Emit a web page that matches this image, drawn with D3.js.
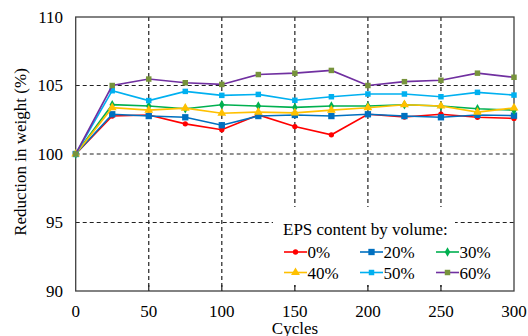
<!DOCTYPE html>
<html>
<head>
<meta charset="utf-8">
<script src="https://cdn.jsdelivr.net/npm/d3@7"></script>
<style>
  body { margin: 0; background: #fff; }
</style>
</head>
<body>
<svg id="chart" width="528" height="336"></svg>
<script>
// cycles on the x axis
var cycles = [0, 25, 50, 75, 100, 125, 150, 175, 200, 225, 250, 275, 300];

// reduction in weight (%) per EPS content
var eps0  = [100, 102.77, 102.85, 102.2, 101.77, 102.85, 102.0, 101.4, 102.9, 102.7, 102.9, 102.68, 102.6];
var eps20 = [100, 102.9, 102.77, 102.68, 102.1, 102.77, 102.85, 102.77, 102.9, 102.77, 102.68, 102.85, 102.8];
var eps30 = [100, 103.6, 103.5, 103.3, 103.6, 103.5, 103.4, 103.5, 103.5, 103.6, 103.5, 103.3, 103.2];
var eps40 = [100, 103.38, 103.2, 103.35, 102.97, 103.06, 103.0, 103.2, 103.38, 103.6, 103.5, 103.06, 103.36];
var eps50 = [100, 104.62, 103.9, 104.57, 104.28, 104.35, 103.92, 104.18, 104.38, 104.38, 104.18, 104.5, 104.3];
var eps60 = [100, 105.0, 105.47, 105.2, 105.08, 105.8, 105.9, 106.1, 105.0, 105.28, 105.38, 105.9, 105.6];

var seriesNames = ["0%", "20%", "30%", "40%", "50%", "60%"];
var xTicks = [0, 50, 100, 150, 200, 250, 300];
var yTicks = [90, 95, 100, 105, 110];

var series = [
  { name: seriesNames[0], values: eps0,  color: "#ff0000", marker: "circle",   mfill: "#ff0000", size: 22 },
  { name: seriesNames[1], values: eps20, color: "#0070c0", marker: "square",   mfill: "#0070c0", size: 40 },
  { name: seriesNames[2], values: eps30, color: "#00b050", marker: "diamond",  mfill: "#00b050", size: 26 },
  { name: seriesNames[3], values: eps40, color: "#ffc000", marker: "triangle", mfill: "#ffc000", size: 34 },
  { name: seriesNames[4], values: eps50, color: "#00b0f0", marker: "square",   mfill: "#00b0f0", size: 30 },
  { name: seriesNames[5], values: eps60, color: "#7030a0", marker: "square",   mfill: "#77933c", size: 30 }
];

var symbolType = {
  circle: d3.symbolCircle,
  square: d3.symbolSquare,
  diamond: d3.symbolDiamond,
  triangle: d3.symbolTriangle
};

var FONT = "'Liberation Serif', 'DejaVu Serif', serif";
var svg = d3.select("#chart");
var plotL = 75.7, plotR = 514, plotT = 17, plotB = 291;

var x = d3.scaleLinear().domain([0, 300]).range([plotL, plotR]);
var y = d3.scaleLinear().domain([90, 110]).range([plotB, plotT]);

// dashed grid
svg.append("g").selectAll("line")
  .data(xTicks.slice(1, -1))
  .enter().append("line")
  .attr("x1", d => x(d)).attr("x2", d => x(d))
  .attr("y1", plotT).attr("y2", plotB)
  .attr("stroke", "#222").attr("stroke-width", 1.2)
  .attr("stroke-dasharray", "4,3");
svg.append("g").selectAll("line")
  .data(yTicks.slice(1, -1))
  .enter().append("line")
  .attr("x1", plotL).attr("x2", plotR)
  .attr("y1", d => y(d)).attr("y2", d => y(d))
  .attr("stroke", "#222").attr("stroke-width", 1.2)
  .attr("stroke-dasharray", "4,3");

// inward ticks on the bottom axis
svg.append("g").selectAll("line")
  .data(xTicks.slice(1, -1))
  .enter().append("line")
  .attr("x1", d => x(d)).attr("x2", d => x(d))
  .attr("y1", plotB - 6).attr("y2", plotB)
  .attr("stroke", "#222").attr("stroke-width", 1.2);

// legend backgrounds (cover the grid)
svg.append("rect").attr("x", 273).attr("y", 207).attr("width", 182).attr("height", 34).attr("fill", "#fff");
svg.append("rect").attr("x", 273).attr("y", 240).attr("width", 240).attr("height", 45).attr("fill", "#fff");

// frame
svg.append("rect")
  .attr("x", plotL).attr("y", plotT)
  .attr("width", plotR - plotL).attr("height", plotB - plotT)
  .attr("fill", "none").attr("stroke", "#404040").attr("stroke-width", 1.3);

// axis labels
svg.append("g").selectAll("text")
  .data(xTicks)
  .enter().append("text")
  .attr("x", d => x(d)).attr("y", 316.5)
  .attr("text-anchor", "middle")
  .attr("font-family", FONT).attr("font-size", 17)
  .text(d => d);
svg.append("g").selectAll("text")
  .data(yTicks)
  .enter().append("text")
  .attr("x", 63).attr("y", d => y(d) + 5.5)
  .attr("text-anchor", "end")
  .attr("font-family", FONT).attr("font-size", 17)
  .text(d => d);

svg.append("text")
  .attr("x", 295).attr("y", 334)
  .attr("text-anchor", "middle")
  .attr("font-family", FONT).attr("font-size", 17)
  .text("Cycles");
svg.append("text")
  .attr("transform", "translate(26,152) rotate(-90)")
  .attr("text-anchor", "middle")
  .attr("font-family", FONT).attr("font-size", 17)
  .text("Reduction in weight (%)");

// series lines and markers
var line = d3.line()
  .x((d, i) => x(cycles[i]))
  .y(d => y(d));

series.forEach(function (s) {
  var g = svg.append("g");
  g.append("path")
    .attr("d", line(s.values))
    .attr("fill", "none")
    .attr("stroke", s.color)
    .attr("stroke-width", 1.6);
  g.selectAll("path.m")
    .data(s.values)
    .enter().append("path")
    .attr("class", "m")
    .attr("transform", (d, i) => "translate(" + x(cycles[i]) + "," + y(d) + ")")
    .attr("d", d3.symbol().type(symbolType[s.marker]).size(s.size))
    .attr("fill", s.mfill);
});

// legend
svg.append("text")
  .attr("x", 283).attr("y", 235)
  .attr("font-family", FONT).attr("font-size", 17)
  .text("EPS content by volume:");

var legCols = [284, 360, 436];
var legRows = [252, 272.5];
series.forEach(function (s, i) {
  var lx = legCols[i % 3], ly = legRows[Math.floor(i / 3)];
  var g = svg.append("g");
  g.append("line")
    .attr("x1", lx).attr("x2", lx + 23)
    .attr("y1", ly).attr("y2", ly)
    .attr("stroke", s.color).attr("stroke-width", 1.6);
  g.append("path")
    .attr("transform", "translate(" + (lx + 11.5) + "," + ly + ")")
    .attr("d", d3.symbol().type(symbolType[s.marker]).size(s.size))
    .attr("fill", s.mfill);
  g.append("text")
    .attr("x", lx + 23.5).attr("y", ly + 6)
    .attr("font-family", FONT).attr("font-size", 17)
    .text(s.name);
});
</script>
</body>
</html>
